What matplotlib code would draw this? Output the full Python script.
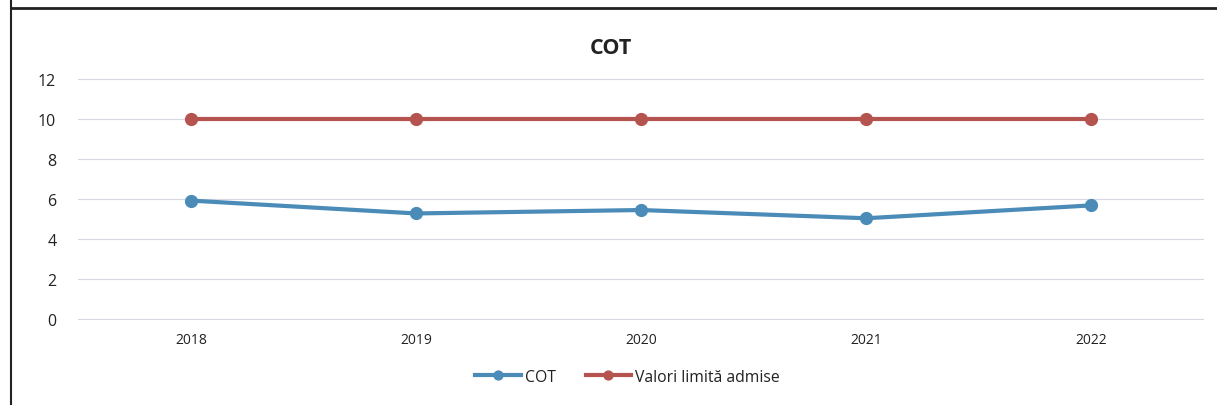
import matplotlib.pyplot as plt
from matplotlib.lines import Line2D

plt.rcParams['font.family'] = ['Open Sans', 'DejaVu Sans']

years = ['2018', '2019', '2020', '2021', '2022']
cot = [5.92, 5.28, 5.45, 5.04, 5.68]
limita = [10, 10, 10, 10, 10]
y_ticks = [0, 2, 4, 6, 8, 10, 12]

blue = '#4a8bb8'
red = '#b5534f'

fig = plt.figure(figsize=(12.17, 4.06), dpi=100)
ax = fig.add_axes([0.0645, 0.2094, 0.9245, 0.596])

x = range(len(years))
ax.plot(x, cot, color=blue, lw=3, marker='o', ms=8.5, label='COT', zorder=3)
ax.plot(x, limita, color=red, lw=3, marker='o', ms=8.5, label='Valori limită admise', zorder=3)

ax.set_xlim(-0.5, len(years) - 0.5)
ax.set_ylim(-0.03, 12.03)
ax.set_yticks(y_ticks)
ax.set_xticks(list(x))
ax.set_xticklabels(years, fontsize=10, color='#222222')
ax.tick_params(axis='y', labelsize=11.5, colors='#222222', length=0, pad=16)
ax.tick_params(axis='x', length=0, pad=9)
ax.grid(axis='y', color='#d8d8e4', lw=0.8)
ax.set_axisbelow(True)
for s in ax.spines.values():
    s.set_visible(False)

fig.text(0.502, 0.88, 'COT', ha='center', va='center', fontsize=15.5, fontweight='bold', color='#222222')

ax.legend(loc='center', bbox_to_anchor=(0.488, -0.235), ncol=2, frameon=False,
          fontsize=11.3, handlelength=2.9, handletextpad=0.25, columnspacing=1.9,
          markerscale=0.75, labelcolor='#222222')

# scanned frame border
fig.add_artist(Line2D([11 / 1217, 11 / 1217], [0, 1], color='#222222', lw=1.5))
fig.add_artist(Line2D([11 / 1217, 1], [1 - 9 / 406, 1 - 9 / 406], color='#222222', lw=2))

fig.savefig('out.png', dpi=100)
